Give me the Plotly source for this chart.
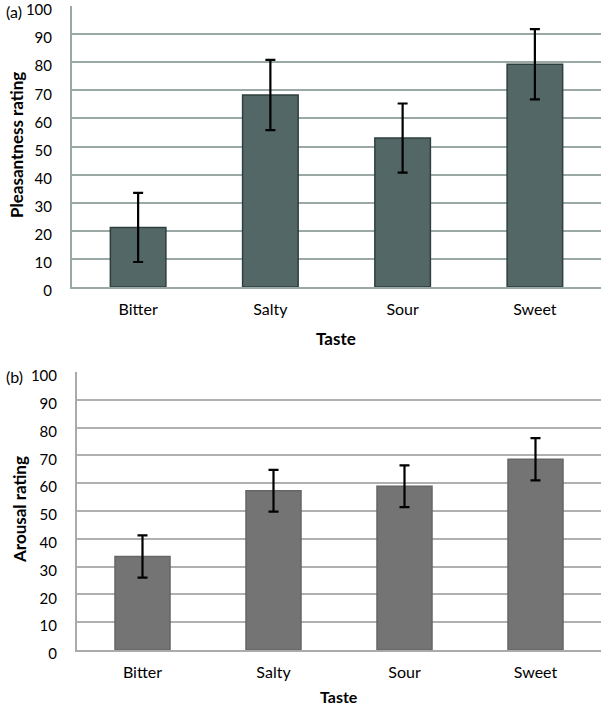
import plotly.graph_objects as go

tastes = ["Bitter", "Salty", "Sour", "Sweet"]
pleasantness = [21.2, 68.3, 53.0, 79.3]
pleasantness_err = [12.3, 12.5, 12.3, 12.5]
arousal = [33.6, 57.3, 58.9, 68.6]
arousal_err = [7.6, 7.5, 7.5, 7.6]
y_ticks = [0, 10, 20, 30, 40, 50, 60, 70, 80, 90, 100]

W, H = 605, 708
FONT = "Lato"
FS = 16

fig = go.Figure()

fig.add_trace(go.Bar(
    x=tastes, y=pleasantness, width=0.42,
    marker=dict(color="#546767", line=dict(color="#2e3f3f", width=1.5)),
    error_y=dict(type="data", array=pleasantness_err, color="black", thickness=2.2, width=5),
    xaxis="x", yaxis="y", showlegend=False, hoverinfo="skip",
))
fig.add_trace(go.Bar(
    x=tastes, y=arousal, width=0.42,
    marker=dict(color="#747474", line=dict(color="#666666", width=1.5)),
    error_y=dict(type="data", array=arousal_err, color="black", thickness=2.2, width=5),
    xaxis="x2", yaxis="y2", showlegend=False, hoverinfo="skip",
))

def px_x(p):
    return p / W

def px_y(p):
    return 1 - p / H

common_y = dict(range=[0, 100], tickvals=y_ticks, showgrid=True, gridwidth=2,
                zeroline=False, showline=True, linewidth=2, automargin=False,
                tickfont=dict(family=FONT, size=15, color="black"),
                ticklabelstandoff=15, ticklabelshift=4, ticklabeloverflow="allow", fixedrange=True)
common_x = dict(showline=True, linewidth=2, showgrid=False, ticks="", automargin=False,
                tickfont=dict(family=FONT, size=FS, color="black"),
                ticklabelstandoff=7, ticklabeloverflow="allow", fixedrange=True)

def txt(text, x, y, angle=0, bold=False, size=FS):
    return dict(text=f"<b>{text}</b>" if bold else text, x=px_x(x), y=px_y(y),
                xref="paper", yref="paper", xanchor="center", yanchor="middle",
                showarrow=False, textangle=angle,
                font=dict(family=FONT, size=size, color="black"))

fig.update_layout(
    width=W, height=H, margin=dict(l=0, r=0, t=0, b=0, autoexpand=False),
    paper_bgcolor="white", plot_bgcolor="white",
    xaxis=dict(domain=[px_x(72), px_x(601)], anchor="y", linecolor="#9aa8a6", **common_x),
    yaxis=dict(domain=[px_y(287), px_y(6)], anchor="x", gridcolor="#9aa8a6", linecolor="#9aa8a6", **common_y),
    xaxis2=dict(domain=[px_x(77), px_x(601)], anchor="y2", linecolor="#aaaaaa", **common_x),
    yaxis2=dict(domain=[px_y(650), px_y(372)], anchor="x2", gridcolor="#b0b0b0", linecolor="#aaaaaa", **common_y),
    annotations=[
        txt("(a)", 14, 12),
        txt("(b)", 14, 376),
        txt("Pleasantness rating", 17, 145, angle=-90, bold=True, size=17),
        txt("Arousal rating", 19, 510, angle=-90, bold=True, size=17),
        txt("Taste", 336, 338, bold=True, size=17),
        txt("Taste", 339, 696, bold=True, size=16),
    ],
)

fig.write_html("out.html", config={"displayModeBar": False, "staticPlot": True},
               post_script="document.body.style.margin='0';document.body.style.overflow='hidden';")
